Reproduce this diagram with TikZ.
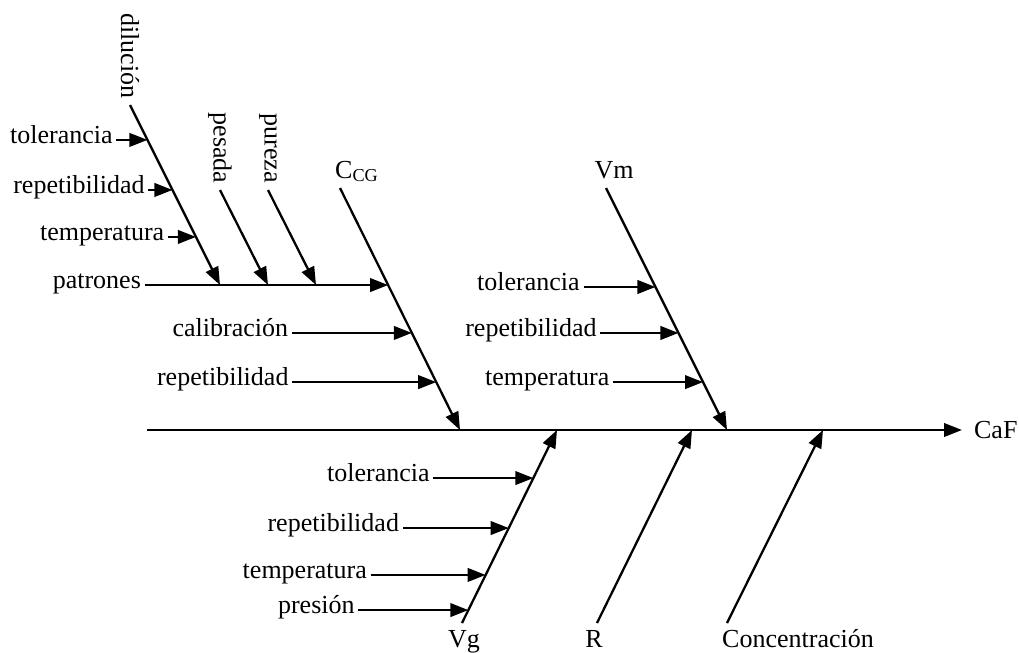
\documentclass[tikz,border=0pt]{standalone}
\usepackage{fontspec}
\setmainfont{Liberation Serif}
\usetikzlibrary{arrows.meta,calc,positioning}

\begin{document}
\begin{tikzpicture}[x=0.02cm,y=-0.02cm,>={Triangle[length=0.36cm,width=0.27cm]},line width=1.3pt,
    every node/.style={font=\fontsize{14.8}{17}\selectfont},
    cause/.style={inner sep=1.5pt,text height=0.62em,text depth=0.2em},
    vert/.style={rotate=-90,inner sep=0pt},
    bone/.style={inner sep=0pt,anchor=base}]

    \useasboundingbox (0,0) rectangle (1019,653);

    \coordinate (sL) at (147,430);
    \coordinate (sR) at (962,430);
    \node[inner sep=0pt] (caf) [right=0.22cm of sR] {CaF};

    \coordinate (ccgA) at (340,188);
    \coordinate (ccgB) at (460,430);
    \node[bone] (ccg) at (357,178) {C\textsubscript{CG}};

    \coordinate (vmA) at (606,188);
    \coordinate (vmB) at (727,430);
    \node[bone] (vm) at (614,178) {Vm};

    \coordinate (vgA) at (462,623);
    \coordinate (vgB) at (557,430);
    \node[bone] (vg) at (464,647) {Vg};

    \coordinate (rA) at (597,623);
    \coordinate (rB) at (692,430);
    \node[bone] (r) at (594,647) {R};

    \coordinate (conA) at (727,623);
    \coordinate (conB) at (823,430);
    \node[bone] (con) at (798,647) {Concentración};

    \coordinate (dilA) at (130,105);
    \coordinate (dilB) at (220,285);
    \node[vert] (dil) at (130,56) {dilución};

    \coordinate (pesA) at (220,190);
    \coordinate (pesB) at (268,285);
    \node[vert] (pes) at (220,148) {pesada};

    \coordinate (purA) at (268,190);
    \coordinate (purB) at (316,285);
    \node[vert] (pur) at (268,148) {pureza};

    \coordinate (c1) at ($(ccgA)!0.401!(ccgB)$);
    \coordinate (c2) at ($(ccgA)!0.599!(ccgB)$);
    \coordinate (c3) at ($(ccgA)!0.802!(ccgB)$);
    \node[cause] (pat) [left=4.87cm of c1] {patrones};
    \node[cause] (cal) [left=2.4cm of c2] {calibración};
    \node[cause] (rep1) [left=2.88cm of c3] {repetibilidad};

    \coordinate (d1) at ($(dilA)!0.194!(dilB)$);
    \coordinate (d2) at ($(dilA)!0.472!(dilB)$);
    \coordinate (d3) at ($(dilA)!0.733!(dilB)$);
    \node[cause] (tol1) [left=0.62cm of d1] {tolerancia};
    \node[cause] (rep2) [left=0.48cm of d2] {repetibilidad};
    \node[cause] (tem1) [left=0.56cm of d3] {temperatura};

    \coordinate (m1) at ($(vmA)!0.409!(vmB)$);
    \coordinate (m2) at ($(vmA)!0.599!(vmB)$);
    \coordinate (m3) at ($(vmA)!0.802!(vmB)$);
    \node[cause] (tol2) [left=1.44cm of m1] {tolerancia};
    \node[cause] (rep3) [left=1.56cm of m2] {repetibilidad};
    \node[cause] (tem2) [left=1.8cm of m3] {temperatura};

    \coordinate (g1) at ($(vgA)!0.751!(vgB)$);
    \coordinate (g2) at ($(vgA)!0.492!(vgB)$);
    \coordinate (g3) at ($(vgA)!0.249!(vgB)$);
    \coordinate (g4) at ($(vgA)!0.067!(vgB)$);
    \node[cause] (tol3) [left=2.0cm of g1] {tolerancia};
    \node[cause] (rep4) [left=2.12cm of g2] {repetibilidad};
    \node[cause] (tem3) [left=2.3cm of g3] {temperatura};
    \node[cause] (pre) [left=2.2cm of g4] {presión};

    \draw[->] (sL) -- (sR);
    \draw[->] (ccgA) -- (ccgB);
    \draw[->] (vmA) -- (vmB);
    \draw[->] (vgA) -- (vgB);
    \draw[->] (rA) -- (rB);
    \draw[->] (conA) -- (conB);
    \draw[->] (dilA) -- (dilB);
    \draw[->] (pesA) -- (pesB);
    \draw[->] (purA) -- (purB);

    \draw[->] (pat) -- (c1);
    \draw[->] (cal) -- (c2);
    \draw[->] (rep1) -- (c3);
    \draw[->] (tol1) -- (d1);
    \draw[->] (rep2) -- (d2);
    \draw[->] (tem1) -- (d3);
    \draw[->] (tol2) -- (m1);
    \draw[->] (rep3) -- (m2);
    \draw[->] (tem2) -- (m3);
    \draw[->] (tol3) -- (g1);
    \draw[->] (rep4) -- (g2);
    \draw[->] (tem3) -- (g3);
    \draw[->] (pre) -- (g4);
\end{tikzpicture}
\end{document}
